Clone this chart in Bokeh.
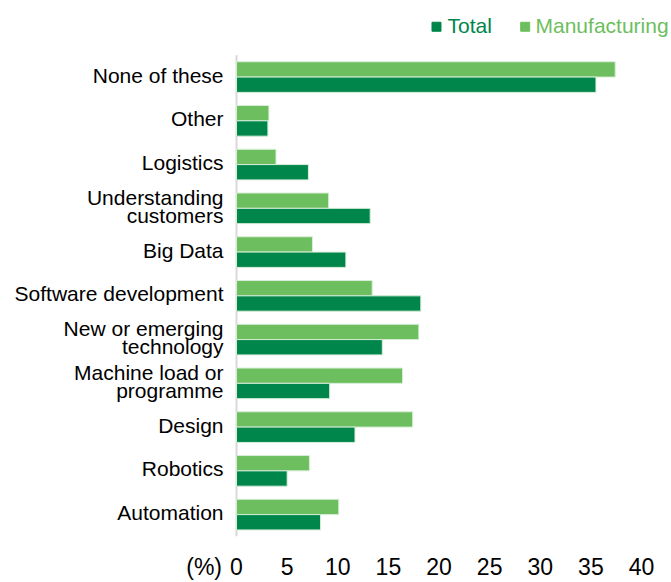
from bokeh.plotting import figure
from bokeh.models import Range1d, FixedTicker, ColumnDataSource
from bokeh.embed import file_html
from bokeh.resources import INLINE
from bokeh.core.properties import value

# ---- data ----
categories = ["None of these", "Other", "Logistics", "Understanding\ncustomers", "Big Data",
              "Software development", "New or emerging\ntechnology", "Machine load or\nprogramme",
              "Design", "Robotics", "Automation"]
total = [35.5, 3.1, 7.1, 13.2, 10.8, 18.2, 14.4, 9.2, 11.7, 5.0, 8.3]
manufacturing = [37.4, 3.2, 3.9, 9.1, 7.5, 13.4, 18.0, 16.4, 17.4, 7.2, 10.1]
x_ticks = [0, 5, 10, 15, 20, 25, 30, 35, 40]
series_names = ["Total", "Manufacturing"]
unit_label = "(%)"

# ---- style / layout ----
DARK = "#00854A"
LIGHT = "#6DBE5E"
FONT = "Liberation Sans"
FS = "21px"
TICK_FS = "23px"
BAR_H = 0.35
UNIT_POS = -3.2          # x position of the "(%)" tick label
X_MIN, X_MAX = -23.31, 42.96
Y_MIN, Y_MAX = 0, 12.25

n = len(categories)
ypos = [n - 1 - i + 0.5 for i in range(n)]   # category centres, top to bottom

source = ColumnDataSource(dict(
    cat=categories, y=ypos, total=total, manufacturing=manufacturing,
    y_m=[v + BAR_H / 2 for v in ypos], y_t=[v - BAR_H / 2 for v in ypos]))

p = figure(width=671, height=582,
           x_range=Range1d(X_MIN, X_MAX), y_range=Range1d(Y_MIN, Y_MAX),
           output_backend="svg", toolbar_location=None, y_axis_location=None,
           min_border_left=0, min_border_right=0, min_border_top=0, min_border_bottom=42)
p.grid.visible = False
p.outline_line_color = None

# vertical category axis line
p.segment(x0=[0], y0=[0], x1=[0], y1=[n], line_color="#d9d9d9", line_width=2)

p.hbar(y="y_m", right="manufacturing", left=0, height=BAR_H, source=source,
       fill_color=LIGHT, line_color="#d8eed8", line_width=1)
p.hbar(y="y_t", right="total", left=0, height=BAR_H, source=source,
       fill_color=DARK, line_color="#d8eed8", line_width=1)

# category labels
p.text(x=0, y="y", text="cat", source=source, x_offset=-13, y_offset=-2,
       text_align="right", text_baseline="middle", text_font=value(FONT),
       text_font_size=FS, text_color="black", text_line_height=0.8)

# x axis
xa = p.xaxis[0]
xa.ticker = FixedTicker(ticks=[UNIT_POS] + x_ticks)
xa.major_label_overrides = {UNIT_POS: unit_label}
xa.axis_line_color = None
xa.major_tick_line_color = None
xa.minor_tick_line_color = None
xa.major_label_text_font = FONT
xa.major_label_text_font_size = TICK_FS
xa.major_label_text_color = "black"
xa.major_label_standoff = 11

# legend row (top right)
lsrc = ColumnDataSource(dict(name=series_names, color=[DARK, LIGHT],
                             sx=[19.75, 28.51], tx=[20.84, 29.53],
                             sy=[11.65, 11.65], ty=[11.68, 11.68]))
p.scatter(x="sx", y="sy", marker="square", size=9, fill_color="color",
          line_color="color", source=lsrc)
p.text(x="tx", y="ty", text="name", text_color="color", text_font=value(FONT),
       text_font_size=FS, text_baseline="middle", text_align="left", source=lsrc)

open("out.html", "w").write(file_html(p, INLINE))
